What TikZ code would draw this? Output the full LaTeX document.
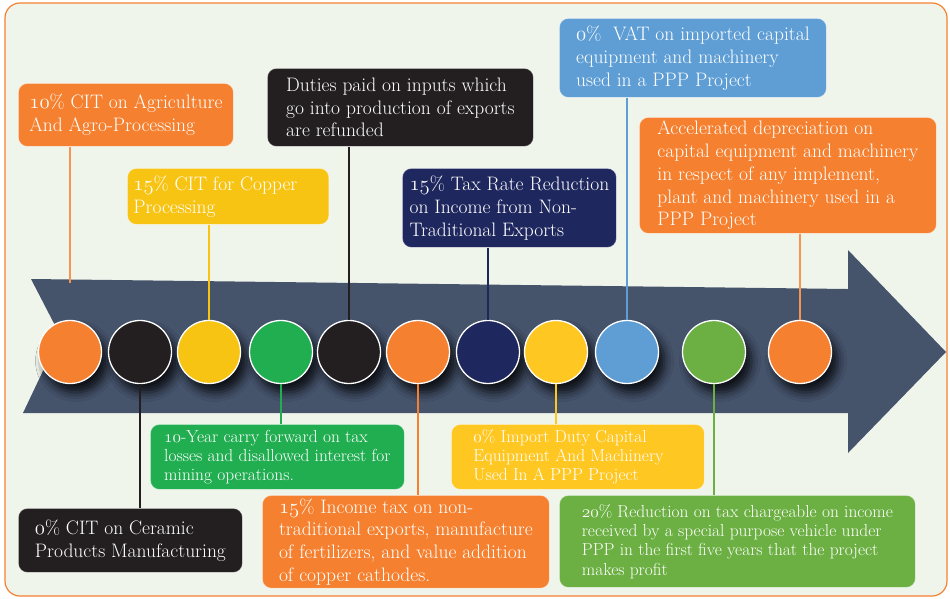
\documentclass[tikz,border=0pt]{standalone}
\usetikzlibrary{shadows.blur}

\definecolor{corange}{RGB}{245,129,48}
\definecolor{cblack}{RGB}{35,31,32}
\definecolor{cyellow}{RGB}{248,196,20}
\definecolor{cgold}{RGB}{255,199,34}
\definecolor{cgreen}{RGB}{33,174,81}
\definecolor{cnavy}{RGB}{31,40,94}
\definecolor{cblue}{RGB}{94,158,213}
\definecolor{clime}{RGB}{108,176,67}
\definecolor{carrow}{RGB}{69,83,107}
\definecolor{cback}{RGB}{240,245,236}

\newcommand{\bigtxt}{\fontsize{19.5}{22.8}\selectfont}
\newcommand{\smalltxt}{\fontsize{17.4}{19.2}\selectfont}
\newcommand{\osn}[1]{\legacyoldstylenums{#1}}

\begin{document}
\begin{tikzpicture}[x=1pt,y=-1pt,
    tbox/.style={rounded corners=9pt,text=white,align=left,anchor=north west,
        inner xsep=6pt,inner ysep=3pt,draw=white,draw opacity=.45,line width=.8pt,font=\bigtxt},
    small tbox/.style={tbox,font=\smalltxt},
    disc/.style={circle,draw=white,line width=1.3pt,minimum size=63pt,inner sep=0pt,
        blur shadow={shadow xshift=6pt,shadow yshift=-9pt,shadow blur radius=9pt,shadow opacity=80}},
    link/.style={line width=1.5pt}]
    \useasboundingbox (0,0) rectangle (950,598);
    \fill[white] (0,0) rectangle (950,598);
    \draw[corange,line width=1.2pt,fill=cback,rounded corners=15pt] (5,3) rectangle (947,596);

    % the arrow
    \fill[carrow] (31,279) -- (848,289) -- (848,250) -- (946,352) -- (848,453)
        -- (848,413) -- (23,413) -- (60,335) -- cycle;

    % discs on the arrow
    \node[disc,fill=corange] (c1) at (70,352) {};
    \node[disc,fill=cblack] (c2) at (140,352) {};
    \node[disc,fill=cyellow] (c3) at (209,352) {};
    \node[disc,fill=cgreen] (c4) at (281,352) {};
    \node[disc,fill=cblack] (c5) at (349,352) {};
    \node[disc,fill=corange] (c6) at (418,352) {};
    \node[disc,fill=cnavy] (c7) at (488,352) {};
    \node[disc,fill=cgold] (c8) at (556,352) {};
    \node[disc,fill=cblue] (c9) at (627,352) {};
    \node[disc,fill=clime] (c10) at (714,352) {};
    \node[disc,fill=corange] (c11) at (800,352) {};

    % boxes above
    \node[tbox,fill=corange,minimum width=215pt,minimum height=63pt] (t1) at (18,83)
        {\osn{10}\% CIT on Agriculture\\And Agro-Processing};
    \node[tbox,fill=cyellow,minimum width=185pt,minimum height=56pt] (t3) at (127,168)
        {\osn{15}\% CIT for Copper\\Processing\hspace*{5.5em}};
    \node[tbox,fill=cblack,minimum width=266pt,minimum height=78pt] (t5) at (267,68)
        {Duties paid on inputs which\\go into production of exports\\are refunded};
    \node[tbox,fill=cnavy,minimum width=214pt,minimum height=79pt] (t7) at (402,168)
        {\osn{15}\% Tax Rate Reduction\\on Income from Non-\\Traditional Exports};
    \node[tbox,fill=cblue,minimum width=267pt,minimum height=79pt] (t9) at (559,18)
        {\osn{0}\%\ \ VAT on imported capital\\equipment and machinery\\used in a PPP Project};
    \node[tbox,fill=corange,minimum width=297pt,minimum height=116pt] (t11) at (639,117)
        {Accelerated depreciation on\\capital equipment and machinery\\in respect of any implement,\\plant and machinery used in a\\PPP Project};

    % boxes below
    \node[small tbox,fill=cgreen,minimum width=254pt,minimum height=65pt] (t4) at (150,424)
        {\osn{10}-Year carry forward on tax\\losses and disallowed interest for\\mining operations.};
    \node[tbox,fill=cblack,minimum width=224pt,minimum height=64pt] (t2) at (18,508)
        {\osn{0}\% CIT on Ceramic\\Products Manufacturing};
    \node[tbox,fill=corange,minimum width=287pt,minimum height=92pt] (t6) at (262,495)
        {\osn{15}\% Income tax on non-\\traditional exports, manufacture\\of fertilizers, and value addition\\of copper cathodes.};
    \node[small tbox,fill=cgold,minimum width=253pt,minimum height=65pt] (t8) at (451,424)
        {\osn{0}\% Import Duty Capital\\Equipment And Machinery\\Used In A PPP Project\hspace*{2.5em}};
    \node[small tbox,fill=clime,minimum width=356pt,minimum height=92pt] (t10) at (559,495)
        {\osn{20}\% Reduction on tax chargeable on income\\received by a special purpose vehicle under\\PPP in the first five years that the project\\makes profit};

    % links
    \coordinate (e1) at (70,283);
    \draw[link,corange!85!white] (t1.south -| e1) -- (e1);
    \draw[link,cyellow] (t3.south -| c3) -- (c3.north);
    \draw[link,cblack] (t5.south -| c5) -- (c5.north);
    \draw[link,cnavy] (t7.south -| c7) -- (c7.north);
    \draw[link,cblue] (t9.south -| c9) -- (c9.north);
    \draw[link,corange!85!white] (t11.south -| c11) -- (c11.north);
    \draw[link,cblack] (c2.south) -- (c2 |- t2.north);
    \draw[link,cgreen] (c4.south) -- (c4 |- t4.north);
    \draw[link,corange] (c6.south) -- (c6 |- t6.north);
    \draw[link,cgold] (c8.south) -- (c8 |- t8.north);
    \draw[link,clime] (c10.south) -- (c10 |- t10.north);
\end{tikzpicture}
\end{document}
